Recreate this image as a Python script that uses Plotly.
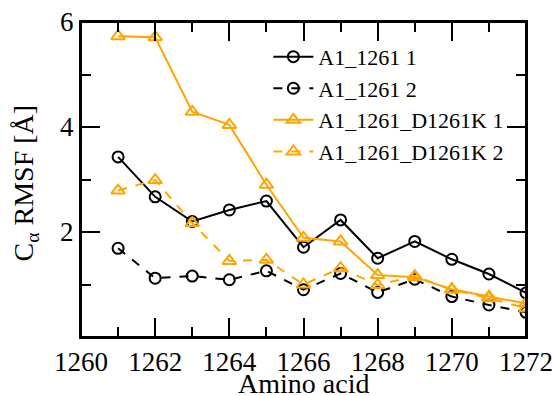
import plotly.graph_objects as go

residues = [1261, 1262, 1263, 1264, 1265, 1266, 1267, 1268, 1269, 1270, 1271, 1272]
a1_run1 = [3.43, 2.67, 2.20, 2.42, 2.59, 1.71, 2.23, 1.50, 1.82, 1.48, 1.20, 0.84]
a1_run2 = [1.69, 1.12, 1.16, 1.09, 1.26, 0.90, 1.21, 0.85, 1.10, 0.77, 0.61, 0.47]
mut_run1 = [5.73, 5.71, 4.29, 4.04, 2.90, 1.89, 1.82, 1.18, 1.14, 0.91, 0.77, 0.64]
mut_run2 = [2.79, 2.99, 2.17, 1.45, 1.47, 1.00, 1.31, 0.99, 1.16, 0.90, 0.74, 0.55]

names = ["A1_1261 1", "A1_1261 2", "A1_1261_D1261K 1", "A1_1261_D1261K 2"]
series = [a1_run1, a1_run2, mut_run1, mut_run2]
colors = ["black", "black", "#FFA500", "#FFA500"]
dashes = ["solid", "dash", "solid", "dash"]
symbols = ["circle-open", "circle-open", "triangle-up-open", "triangle-up-open"]
sizes = [11, 11, 12, 12]

x_title = "Amino acid"
y_title = "C<sub>α</sub> RMSF [Å]"

fig = go.Figure()
for n, s, c, d, sym, sz in zip(names, series, colors, dashes, symbols, sizes):
    fig.add_trace(go.Scatter(
        x=residues, y=s, name=n, mode="lines+markers",
        line=dict(color=c, width=2, dash=d),
        marker=dict(symbol=sym, size=sz, color=c, line=dict(width=2, color=c)),
    ))

font_family = "Liberation Serif, Times New Roman, serif"
fig.update_layout(
    width=555, height=396,
    margin=dict(l=81, r=29, t=22, b=59, autoexpand=False),
    paper_bgcolor="white", plot_bgcolor="white",
    font=dict(family=font_family, size=27, color="black"),
    showlegend=True,
    legend=dict(x=0.421, y=0.956, xanchor="left", yanchor="top",
                bgcolor="rgba(0,0,0,0)", font=dict(size=22, family=font_family),
                tracegroupgap=0, itemwidth=40),
    xaxis=dict(
        range=[1260, 1272], dtick=2, tick0=1260, automargin=False,
        showline=True, linecolor="black", linewidth=2, mirror="allticks",
        ticks="inside", ticklen=19, tickwidth=2, tickcolor="black",
        minor=dict(dtick=1, ticks="inside", ticklen=10, tickwidth=2, tickcolor="black"),
        showgrid=False, zeroline=False,
        tickfont=dict(size=27),
    ),
    yaxis=dict(
        range=[0, 6], dtick=2, tick0=0, automargin=False,
        showline=True, linecolor="black", linewidth=2, mirror="allticks",
        ticks="inside", ticklen=19, tickwidth=2, tickcolor="black",
        minor=dict(dtick=1, ticks="inside", ticklen=10, tickwidth=2, tickcolor="black"),
        showgrid=False, zeroline=False,
        tickvals=[2, 4, 6],
        tickfont=dict(size=27),
    ),
    shapes=[
        dict(type="rect", xref="paper", yref="paper", x0=0, y0=0, x1=1, y1=1,
             line=dict(color="black", width=2), fillcolor="rgba(0,0,0,0)",
             layer="above"),
    ],
    annotations=[
        dict(text=x_title, xref="paper", yref="paper", x=0.5, y=-0.148,
             xanchor="center", yanchor="middle", showarrow=False,
             font=dict(size=28, family=font_family)),
        dict(text=y_title, xref="paper", yref="paper", x=-0.124, y=0.49,
             xanchor="center", yanchor="middle", showarrow=False, textangle=-90,
             font=dict(size=28, family=font_family)),
    ],
)

fig.write_html("out.html", config={"displayModeBar": False},
               post_script="document.body.style.margin='0';")
